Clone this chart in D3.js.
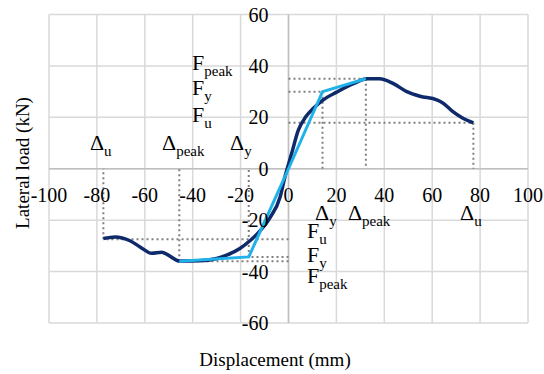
<!DOCTYPE html>
<html>
<head>
<meta charset="utf-8">
<script src="https://cdn.jsdelivr.net/npm/d3@7"></script>
<style>
  body { margin: 0; background: #fff; }
</style>
</head>
<body>
<div id="chart"></div>
<script>
// test curve (displacement mm / lateral load kN)
var disp = [-77.3, -72.4, -66.2, -62.0, -57.1, -52.9, -50.2, -45.5, -37.0, -30.0, -25.8, -20.3, -16.1, -11.9, -7.7, -3.5, -1.5, 1.3, 4.1, 7.2, 10.4, 14.5, 20.1, 27.1, 33.0, 38.0, 43.8, 49.4, 54.9, 61.9, 64.6, 68.8, 72.3, 77.2];
var load = [-27.1, -26.5, -28.0, -30.4, -32.9, -32.5, -33.6, -35.9, -35.8, -34.9, -33.6, -31.0, -28.0, -24.2, -19.0, -11.0, -3.2, 5.9, 15.0, 20.2, 23.5, 26.8, 29.8, 33.1, 35.0, 35.0, 33.1, 30.0, 28.2, 26.8, 25.5, 22.1, 19.9, 17.8];

// idealised bilinear curve
var bil_disp = [-45.6, -16.6, 0, 14.2, 32.3];
var bil_load = [-36.0, -34.3, 0, 30.0, 35.0];

// key points (u, peak, y)
var key_names = ["u", "peak", "y"];
var key_disp_pos = [77.2, 32.3, 14.2];
var key_load_pos = [17.9, 35.0, 30.0];
var key_disp_neg = [-77.3, -45.6, -16.6];
var key_load_neg = [-27.4, -36.0, -34.3];

// axis ticks
var x_ticks = [-100, -80, -60, -40, -20, 0, 20, 40, 60, 80, 100];
var y_ticks = [-60, -40, -20, 0, 20, 40, 60];

// annotation labels (main letter, subscript, position in data units)
var lab_main = ["F", "F", "F", "Δ", "Δ", "Δ", "Δ", "Δ", "Δ", "F", "F", "F"];
var lab_sub = ["peak", "y", "u", "u", "peak", "y", "y", "peak", "u", "u", "y", "peak"];
var lab_x = [-40.3, -40.3, -40.3, -82.9, -52.8, -24.4, 11.1, 24.8, 71.6, 7.7, 7.7, 7.7];
var lab_y = [38.6, 28.5, 18.1, 7.2, 7.2, 7.2, -19.8, -19.8, -19.8, -27.0, -36.3, -44.5];

w = 544;
h = 374;

var svg = d3.select("#chart")
  .append("svg")
    .attr("width", w)
    .attr("height", h)
    .attr("font-family", "'Liberation Serif', 'Times New Roman', 'DejaVu Serif', serif");

var x = d3.scaleLinear().domain([-100, 100]).range([49, 528]);
var y = d3.scaleLinear().domain([-60, 60]).range([323, 14.5]);

// <-- GRID -------------
svg.append("g")
  .selectAll("line")
  .data(x_ticks)
  .enter().append("line")
    .attr("x1", function(d) { return x(d); })
    .attr("x2", function(d) { return x(d); })
    .attr("y1", y(60))
    .attr("y2", y(-60))
    .attr("stroke", "#d9d9d9")
    .attr("stroke-width", 1.5);
svg.append("g")
  .selectAll("line")
  .data(y_ticks)
  .enter().append("line")
    .attr("x1", x(-100))
    .attr("x2", x(100))
    .attr("y1", function(d) { return y(d); })
    .attr("y2", function(d) { return y(d); })
    .attr("stroke", "#d9d9d9")
    .attr("stroke-width", 1.5);

// axis lines through zero
svg.append("line")
  .attr("x1", x(0)).attr("x2", x(0))
  .attr("y1", y(60)).attr("y2", y(-60))
  .attr("stroke", "#bfbfbf")
  .attr("stroke-width", 1.5);
svg.append("line")
  .attr("x1", x(-100)).attr("x2", x(100))
  .attr("y1", y(0)).attr("y2", y(0))
  .attr("stroke", "#bfbfbf")
  .attr("stroke-width", 1.5);
// -- GRID ------------->

// <-- DOTTED GUIDES -------------
var guides = svg.append("g")
  .attr("stroke", "#808080")
  .attr("stroke-width", 2)
  .attr("stroke-dasharray", "2,3")
  .attr("fill", "none");

key_names.forEach(function(k, i) {
  [[key_disp_pos[i], key_load_pos[i]], [key_disp_neg[i], key_load_neg[i]]].forEach(function(p) {
    guides.append("line")
      .attr("x1", x(0)).attr("x2", x(p[0]))
      .attr("y1", y(p[1])).attr("y2", y(p[1]));
    guides.append("line")
      .attr("x1", x(p[0])).attr("x2", x(p[0]))
      .attr("y1", y(p[1])).attr("y2", y(0));
  });
});
// -- DOTTED GUIDES ------------->

// <-- CURVES -------------
var curve_data = disp.map(function(d, i) { return [d, load[i]]; });
var bil_data = bil_disp.map(function(d, i) { return [d, bil_load[i]]; });

var line = d3.line()
  .x(function(d) { return x(d[0]); })
  .y(function(d) { return y(d[1]); });

svg.append("path")
  .datum(curve_data)
  .attr("d", line.curve(d3.curveMonotoneX))
  .attr("fill", "none")
  .attr("stroke", "#0f2a6a")
  .attr("stroke-width", 3.5)
  .attr("stroke-linejoin", "round");

svg.append("path")
  .datum(bil_data)
  .attr("d", line.curve(d3.curveLinear))
  .attr("fill", "none")
  .attr("stroke", "#1fb1ea")
  .attr("stroke-width", 3);
// -- CURVES ------------->

// <-- TICK LABELS -------------
svg.append("g")
  .selectAll("text")
  .data(x_ticks)
  .enter().append("text")
    .attr("x", function(d) { return x(d); })
    .attr("y", y(0) + 33)
    .attr("text-anchor", "middle")
    .attr("font-size", 20)
    .text(function(d) { return d; });

svg.append("g")
  .selectAll("text")
  .data(y_ticks)
  .enter().append("text")
    .attr("x", x(0) - 20)
    .attr("y", function(d) { return y(d) + 7; })
    .attr("text-anchor", "end")
    .attr("font-size", 20)
    .text(function(d) { return d; });
// -- TICK LABELS ------------->

// <-- ANNOTATIONS -------------
lab_main.forEach(function(m, i) {
  var t = svg.append("text")
    .attr("x", x(lab_x[i]))
    .attr("y", y(lab_y[i]))
    .attr("font-size", 22);
  t.append("tspan").text(m);
  t.append("tspan")
    .attr("dy", 6)
    .attr("font-size", 15)
    .text(lab_sub[i]);
});
// -- ANNOTATIONS ------------->

// axis titles
svg.append("text")
  .attr("x", 275)
  .attr("y", 366)
  .attr("text-anchor", "middle")
  .attr("font-size", 19)
  .text("Displacement (mm)");

svg.append("text")
  .attr("transform", "translate(29,163) rotate(-90)")
  .attr("text-anchor", "middle")
  .attr("font-size", 19)
  .text("Lateral load (kN)");
</script>
</body>
</html>
